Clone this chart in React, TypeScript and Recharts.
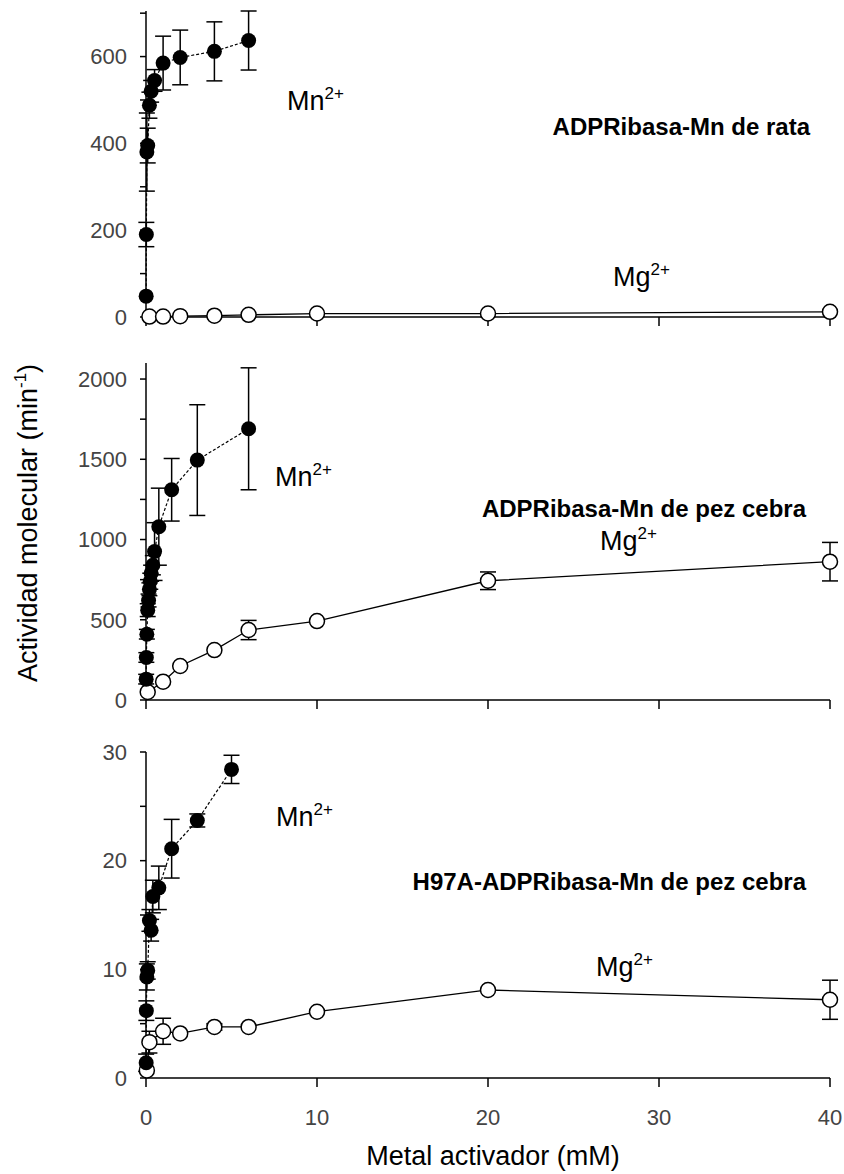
import React from 'react';
import { ComposedChart, Scatter, XAxis, YAxis, ErrorBar } from 'recharts';

// metal concentration (mM) and molecular activity (min-1)
const ratMnX = [0.01, 0.02, 0.05, 0.1, 0.2, 0.3, 0.5, 1, 2, 4, 6];
const ratMnY = [48, 190, 380, 395, 488, 520, 545, 585, 598, 612, 637];
const ratMnErr = [null, 28, 90, 40, 30, 25, 25, 62, 63, 68, 68];
const ratMgX = [0.2, 1, 2, 4, 6, 10, 20, 40];
const ratMgY = [1, 1, 2, 3, 5, 8, 8, 12];

const fishMnX = [0.01, 0.02, 0.05, 0.1, 0.15, 0.2, 0.25, 0.3, 0.4, 0.5, 0.75, 1.5, 3, 6];
const fishMnY = [130, 265, 410, 560, 620, 690, 740, 790, 840, 925, 1080, 1310, 1495, 1690];
const fishMnErr = [30, 30, 30, 40, 40, 40, 50, 50, 60, 180, 240, 195, 345, 380];
const fishMgX = [0.1, 1, 2, 4, 6, 10, 20, 40];
const fishMgY = [50, 114, 212, 311, 436, 492, 743, 862];
const fishMgErr = [null, null, null, null, 60, null, 55, 120];

const mutMnX = [0.01, 0.02, 0.05, 0.1, 0.2, 0.3, 0.4, 0.75, 1.5, 3, 5];
const mutMnY = [1.4, 6.2, 9.3, 9.9, 14.5, 13.6, 16.7, 17.5, 21.1, 23.7, 28.4];
const mutMnErr = [0.8, 0.9, 1.2, 0.8, 1.0, 1.0, 1.5, 2.0, 2.7, 0.6, 1.3];
const mutMgX = [0.05, 0.2, 1, 2, 4, 6, 10, 20, 40];
const mutMgY = [0.7, 3.3, 4.3, 4.1, 4.7, 4.7, 6.1, 8.1, 7.2];
const mutMgErr = [null, 1.0, 1.2, null, 0.3, null, null, null, 1.8];

const xTicks = [0, 10, 20, 30, 40];
const ratTicks = [0, 100, 200, 300, 400, 500, 600, 700];
const fishTicks = [0, 250, 500, 750, 1000, 1250, 1500, 1750, 2000];
const mutTicks = [0, 5, 10, 15, 20, 25, 30];

const FONT = '"Liberation Sans", Arial, sans-serif';

const toRows = (xs: number[], ys: number[], errs?: (number | null)[]) =>
  xs.map((x, i) => ({ x, y: ys[i], e: errs ? errs[i] : null }));

const FilledDot = (props: any) => <circle cx={props.cx} cy={props.cy} r={7.5} fill="#000" />;
const OpenDot = (props: any) => (
  <circle cx={props.cx} cy={props.cy} r={7.5} fill="#fff" stroke="#000" strokeWidth={1.5} />
);
const NoDot = () => null;

const tickStyle = { fontSize: 22, fill: '#444', fontFamily: FONT };

interface PanelProps {
  top: number;
  height: number;
  marginTop: number;
  xHeight: number;
  showXLabels: boolean;
  yMax: number;
  yTicks: number[];
  labelEvery: number;
  mn: { x: number; y: number; e: number | null }[];
  mg: { x: number; y: number; e: number | null }[];
}

const Panel = ({ top, height, marginTop, xHeight, showXLabels, yMax, yTicks, labelEvery, mn, mg }: PanelProps) => {
  const mnErr = mn.filter(d => d.e != null);
  const mgErr = mg.filter(d => d.e != null);
  return (
    <div style={{ position: 'absolute', left: 0, top }}>
      <ComposedChart width={844} height={height} margin={{ top: marginTop, right: 14, bottom: 0, left: 86 }}>
        <XAxis
          type="number"
          dataKey="x"
          domain={[0, 40]}
          ticks={xTicks}
          height={xHeight}
          tickSize={9}
          tickMargin={22}
          tick={tickStyle}
          tickFormatter={v => (showXLabels ? String(v) : '')}
          stroke="#000"
          strokeWidth={1.5}
        />
        <YAxis
          type="number"
          dataKey="y"
          domain={[0, yMax]}
          ticks={yTicks}
          width={60}
          tickSize={6}
          tickMargin={13}
          tick={tickStyle}
          tickFormatter={v => (v % labelEvery === 0 ? String(v) : '')}
          stroke="#000"
          strokeWidth={1.5}
          interval={0}
        />
        <Scatter data={mg} shape={NoDot} line={{ stroke: '#000', strokeWidth: 1.3 }} isAnimationActive={false} />
        <Scatter
          data={mn}
          shape={NoDot}
          line={{ stroke: '#000', strokeWidth: 1.2, strokeDasharray: '3 2' }}
          isAnimationActive={false}
        />
        <Scatter data={mgErr} shape={NoDot} isAnimationActive={false}>
          <ErrorBar dataKey="e" direction="y" width={8} stroke="#000" strokeWidth={1.5} />
        </Scatter>
        <Scatter data={mnErr} shape={NoDot} isAnimationActive={false}>
          <ErrorBar dataKey="e" direction="y" width={8} stroke="#000" strokeWidth={1.5} />
        </Scatter>
        <Scatter data={mg} shape={OpenDot} isAnimationActive={false} />
        <Scatter data={mn} shape={FilledDot} isAnimationActive={false} />
      </ComposedChart>
    </div>
  );
};

const Ion = ({ x, y, sym }: { x: number; y: number; sym: string }) => (
  <text x={x} y={y} fontSize={27} fill="#000">
    {sym}
    <tspan fontSize={17} dy={-11}>2+</tspan>
  </text>
);

const Title = ({ x, y, text }: { x: number; y: number; text: string }) => (
  <text x={x} y={y} fontSize={24} fontWeight="bold" textAnchor="end" fill="#000">
    {text}
  </text>
);

export default function App() {
  return (
    <div style={{ position: 'absolute', left: 0, top: 0, width: 844, height: 1174, background: '#fff', fontFamily: FONT }}>
      <Panel
        top={0}
        height={330}
        marginTop={11}
        xHeight={13}
        showXLabels={false}
        yMax={700}
        yTicks={ratTicks}
        labelEvery={200}
        mn={toRows(ratMnX, ratMnY, ratMnErr)}
        mg={toRows(ratMgX, ratMgY)}
      />
      <Panel
        top={340}
        height={373}
        marginTop={23}
        xHeight={13}
        showXLabels={false}
        yMax={2100}
        yTicks={fishTicks}
        labelEvery={500}
        mn={toRows(fishMnX, fishMnY, fishMnErr)}
        mg={toRows(fishMgX, fishMgY, fishMgErr)}
      />
      <Panel
        top={740}
        height={434}
        marginTop={12}
        xHeight={96}
        showXLabels={true}
        yMax={30}
        yTicks={mutTicks}
        labelEvery={10}
        mn={toRows(mutMnX, mutMnY, mutMnErr)}
        mg={toRows(mutMgX, mutMgY, mutMgErr)}
      />
      <svg
        width={844}
        height={1174}
        style={{ position: 'absolute', left: 0, top: 0, pointerEvents: 'none', fontFamily: FONT }}
      >
        <Ion x={287} y={110} sym="Mn" />
        <Ion x={613} y={286} sym="Mg" />
        <Title x={810} y={135} text="ADPRibasa-Mn de rata" />

        <Ion x={275} y={486} sym="Mn" />
        <Ion x={600} y={550} sym="Mg" />
        <Title x={806} y={517} text="ADPRibasa-Mn de pez cebra" />

        <Ion x={276} y={826} sym="Mn" />
        <Ion x={596} y={976} sym="Mg" />
        <Title x={806} y={890} text="H97A-ADPRibasa-Mn de pez cebra" />

        <text transform="translate(37,523) rotate(-90)" textAnchor="middle" fontSize={27} fill="#000">
          Actividad molecular (min
          <tspan fontSize={17} dy={-11}>-1</tspan>
          <tspan dy={11}>)</tspan>
        </text>
        <text x={493} y={1165} textAnchor="middle" fontSize={27} fill="#000">
          Metal activador (mM)
        </text>
      </svg>
    </div>
  );
}
